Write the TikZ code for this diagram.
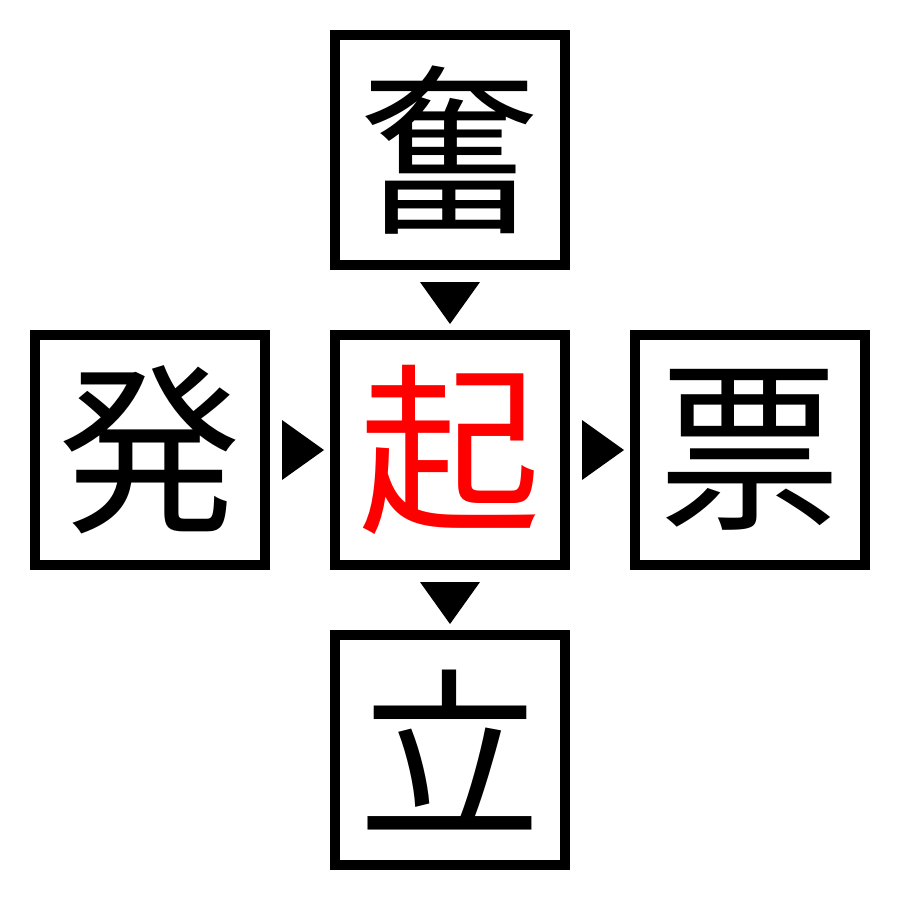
\documentclass[tikz,border=0pt]{standalone}
\usepackage{fontspec}
\usetikzlibrary{calc}
\newfontfamily\cjk{Noto Sans CJK JP}
\begin{document}
\begin{tikzpicture}[x=0.02cm,y=-0.02cm,
  kbox/.style={draw=black,line width=10*0.02cm,minimum size=230*0.02cm,inner sep=0pt,outer sep=0pt,font=\cjk\fontsize{104pt}{104pt}\selectfont},
  tri/.style={fill=black,draw=none}]
\useasboundingbox (0,0) rectangle (900,900);
\node[kbox] (top) at (450,150) {奮};
\node[kbox,text=red] (mid) at (450,450) {起};
\node[kbox] (left) at (150,450) {発};
\node[kbox] (right) at (750,450) {票};
\node[kbox] (bot) at (450,750) {立};
\fill[tri] ($(top.south)+(-30,17)$) -- ($(top.south)+(30,17)$) -- ($(mid.north)+(0,-11)$) -- cycle;
\fill[tri] ($(left.east)+(17,-30)$) -- ($(left.east)+(17,30)$) -- ($(mid.west)+(-11,0)$) -- cycle;
\fill[tri] ($(mid.east)+(17,-30)$) -- ($(mid.east)+(17,30)$) -- ($(right.west)+(-11,0)$) -- cycle;
\fill[tri] ($(mid.south)+(-30,17)$) -- ($(mid.south)+(30,17)$) -- ($(bot.north)+(0,-11)$) -- cycle;
\end{tikzpicture}
\end{document}
